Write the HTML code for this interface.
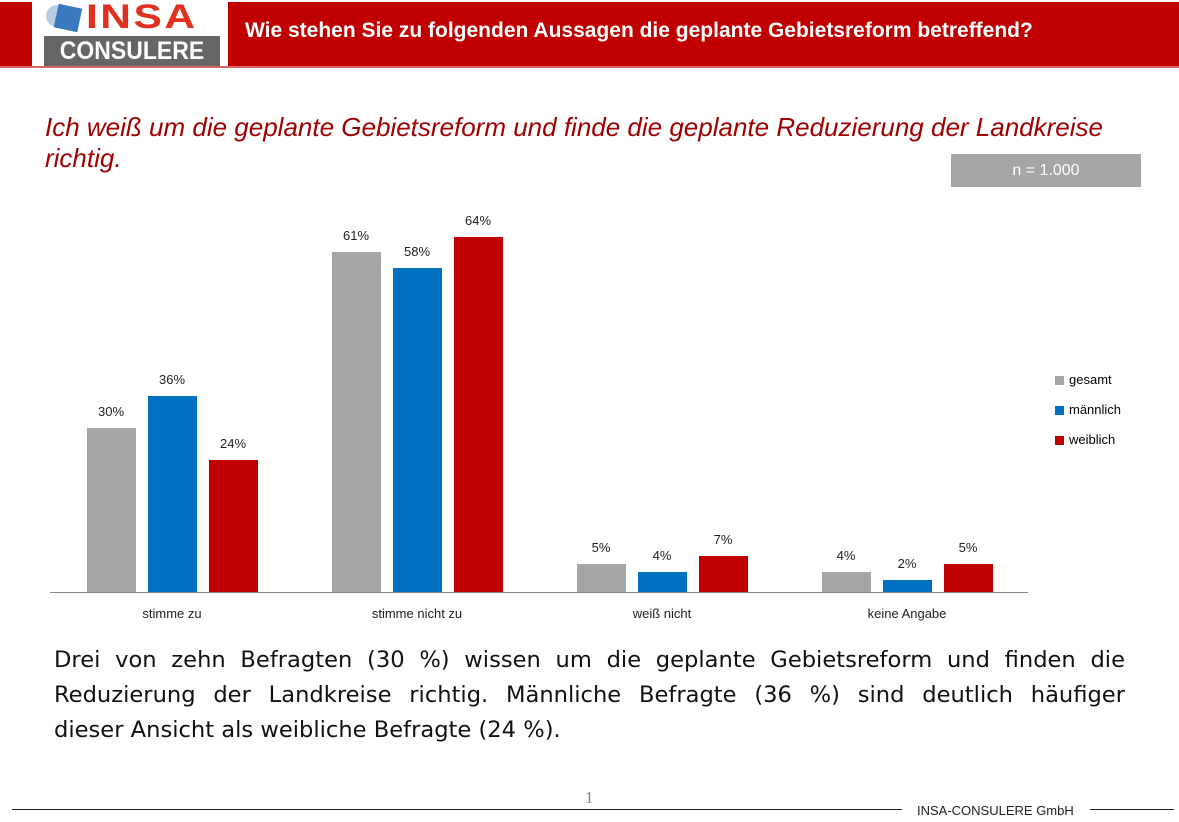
<!DOCTYPE html><html><head><style>
body{margin:0;width:1179px;height:822px;background:#fff;position:relative;overflow:hidden;font-family:"Liberation Sans",sans-serif}
.a{position:absolute}
.b{position:absolute;width:49px}
.g{background:#a5a5a5}.bl{background:#0070c0}.r{background:#c00000}
.l{position:absolute;width:60px;text-align:center;font-size:13px;color:#222}
.c{position:absolute;width:200px;text-align:center;font-size:13px;color:#222;top:606px}
.t{position:absolute;left:54px;width:1071px;font-family:'DejaVu Sans',sans-serif;font-size:22.6px;line-height:35px;color:#111;white-space:nowrap}
.j{text-align:justify;text-align-last:justify}
</style></head><body>
<div class="a" style="left:0;top:2px;width:32px;height:64px;background:#c00000"></div>
<div class="a" style="left:228px;top:2px;width:951px;height:64px;background:#c00000"></div>
<div class="a" style="left:0;top:66px;width:1179px;height:2px;background:#c00000;opacity:.6"></div>
<div class="a" style="left:245px;top:19px;color:#fff;font-weight:bold;font-size:21px">Wie stehen Sie zu folgenden Aussagen die geplante Gebietsreform betreffend?</div>
<div class="a" style="left:44px;top:36px;width:176px;height:30px;background:#666"></div>
<div class="a" style="left:44px;top:36px;width:176px;text-align:center;color:#fff;font-weight:bold;font-size:25px;line-height:30px;transform:scaleX(0.92)">CONSULERE</div>
<div class="a" style="left:46px;top:5px;width:22px;height:22px;border-radius:50%;background:#b8cce4"></div>
<div class="a" style="left:56px;top:6px;width:24px;height:24px;background:#3a78c0;transform:rotate(12deg)"></div>
<div class="a" style="left:86px;top:0px;color:#e03020;font-weight:bold;font-size:34px;line-height:34px;letter-spacing:2px;transform:scaleX(1.25);transform-origin:left">INSA</div>
<div class="a" style="left:45px;top:112px;color:#a00000;font-style:italic;font-size:26px;line-height:31px;width:1100px;white-space:nowrap">Ich weiß um die geplante Gebietsreform und finde die geplante Reduzierung der Landkreise<br>richtig.</div>
<div class="a" style="left:951px;top:154px;width:190px;height:33px;background:#a5a5a5;color:#fff;font-size:16px;text-align:center;line-height:33px">n = 1.000</div>
<div class="a" style="left:50px;top:592px;width:978px;height:1px;background:#888"></div>
<div class="b g" style="left:87px;top:428px;height:164px"></div><div class="l" style="left:81px;top:404px">30%</div>
<div class="b bl" style="left:148px;top:396px;height:196px"></div><div class="l" style="left:142px;top:372px">36%</div>
<div class="b r" style="left:209px;top:460px;height:132px"></div><div class="l" style="left:203px;top:436px">24%</div>
<div class="b g" style="left:332px;top:252px;height:340px"></div><div class="l" style="left:326px;top:228px">61%</div>
<div class="b bl" style="left:393px;top:268px;height:324px"></div><div class="l" style="left:387px;top:244px">58%</div>
<div class="b r" style="left:454px;top:237px;height:355px"></div><div class="l" style="left:448px;top:213px">64%</div>
<div class="b g" style="left:577px;top:564px;height:28px"></div><div class="l" style="left:571px;top:540px">5%</div>
<div class="b bl" style="left:638px;top:572px;height:20px"></div><div class="l" style="left:632px;top:548px">4%</div>
<div class="b r" style="left:699px;top:556px;height:36px"></div><div class="l" style="left:693px;top:532px">7%</div>
<div class="b g" style="left:822px;top:572px;height:20px"></div><div class="l" style="left:816px;top:548px">4%</div>
<div class="b bl" style="left:883px;top:580px;height:12px"></div><div class="l" style="left:877px;top:556px">2%</div>
<div class="b r" style="left:944px;top:564px;height:28px"></div><div class="l" style="left:938px;top:540px">5%</div>
<div class="c" style="left:72px">stimme zu</div>
<div class="c" style="left:317px">stimme nicht zu</div>
<div class="c" style="left:562px">weiß nicht</div>
<div class="c" style="left:807px">keine Angabe</div>
<div class="a g" style="left:1055px;top:376px;width:9px;height:9px"></div><div class="a" style="left:1069px;top:372px;font-size:13px">gesamt</div>
<div class="a bl" style="left:1055px;top:406px;width:9px;height:9px"></div><div class="a" style="left:1069px;top:402px;font-size:13px">männlich</div>
<div class="a r" style="left:1055px;top:436px;width:9px;height:9px"></div><div class="a" style="left:1069px;top:432px;font-size:13px">weiblich</div>
<div class="t j" style="top:643px">Drei von zehn Befragten (30 %) wissen um die geplante Gebietsreform und finden die</div>
<div class="t j" style="top:678px">Reduzierung der Landkreise richtig. Männliche Befragte (36 %) sind deutlich häufiger</div>
<div class="t" style="top:713px">dieser Ansicht als weibliche Befragte (24 %).</div>
<div class="a" style="left:585px;top:788px;font-family:'Liberation Serif',serif;font-size:17px;color:#888">1</div>
<div class="a" style="left:12px;top:809px;width:890px;height:1px;background:#222"></div>
<div class="a" style="left:917px;top:803px;font-size:13px;color:#222">INSA-CONSULERE GmbH</div>
<div class="a" style="left:1090px;top:809px;width:84px;height:1px;background:#222"></div>
</body></html>
